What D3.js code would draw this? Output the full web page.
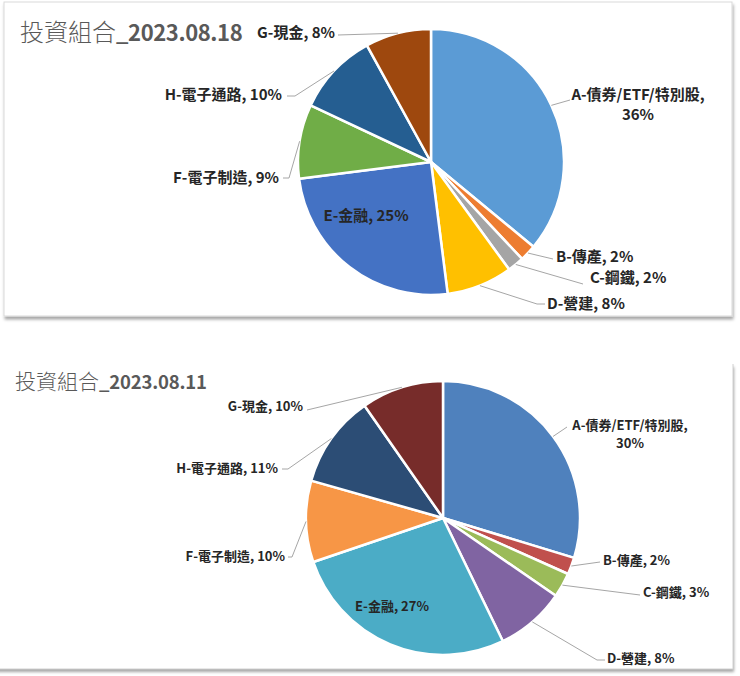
<!DOCTYPE html>
<html>
<head>
<meta charset="utf-8">
<style>
  html, body { margin: 0; padding: 0; background: #fff; }
  svg { display: block; font-family: "Noto Sans CJK TC", "Noto Sans", sans-serif; }
</style>
</head>
<body>
<script src="https://d3js.org/d3.v7.min.js"></script>
<script>
// 類別 (順時針, 從12點鐘開始)
var categories = ["A-債券/ETF/特別股", "B-傳產", "C-鋼鐵", "D-營建", "E-金融", "F-電子制造", "H-電子通路", "G-現金"];
// 各期持股比例 (%)
var values0818 = [36, 2, 2, 8, 25, 9, 10, 8];
var values0811 = [29.7, 2.0, 2.9, 8.2, 27.0, 9.6, 10.9, 9.7];
var titles = ["投資組合_2023.08.18", "投資組合_2023.08.11"];

// 配色 (Office 2013 / Office 2007 主題)
var colors2013 = ["#5B9BD5", "#ED7D31", "#A5A5A5", "#FFC000", "#4472C4", "#70AD47", "#255E91", "#9E480E"];
var colors2007 = ["#4F81BD", "#C0504D", "#9BBB59", "#8064A2", "#4BACC6", "#F79646", "#2C4D75", "#772C2A"];

// 標籤位置 (相對於圓心)
var layoutTop = [
  {tx: 207, ty: -62, anchor: "middle", wrap: true, leader: [[139, -62]]},
  {tx: 125, ty: 100, anchor: "start", leader: [[122, 97]]},
  {tx: 159, ty: 121, anchor: "start", leader: [[152, 122]]},
  {tx: 116, ty: 147, anchor: "start", leader: [[106, 142], [114, 142]]},
  {tx: -65, ty: 59, anchor: "middle", inside: true},
  {tx: -152, ty: 21, anchor: "end", leader: [[-142, 16], [-148, 16]]},
  {tx: -149, ty: -62, anchor: "end", leader: [[-136, -66], [-144, -66]]},
  {tx: -96, ty: -124, anchor: "end", leader: [[-93, -127]]}
];
var layoutBottom = [
  {tx: 187, ty: -88, anchor: "middle", wrap: true, leader: [[124, -91]]},
  {tx: 160, ty: 47, anchor: "start", leader: [[157, 44]]},
  {tx: 200, ty: 79, anchor: "start", leader: [[197, 77]]},
  {tx: 164, ty: 145, anchor: "start", leader: [[154, 142], [162, 142]]},
  {tx: -51, ty: 93, anchor: "middle", inside: true},
  {tx: -158, ty: 43, anchor: "end", leader: [[-151, 39], [-155, 39]]},
  {tx: -165, ty: -45, anchor: "end", leader: [[-155, -49], [-161, -49]]},
  {tx: -140, ty: -107, anchor: "end", leader: [[-136, -108]]}
];

var width = 740, height = 676;
var svg = d3.select("body").append("svg").attr("width", width).attr("height", height);

var defs = svg.append("defs");
var f = defs.append("filter").attr("id", "shadow").attr("x", "-5%").attr("y", "-5%").attr("width", "110%").attr("height", "115%");
f.append("feDropShadow").attr("dx", 1).attr("dy", 3).attr("stdDeviation", 1.5).attr("flood-color", "#000").attr("flood-opacity", 0.35);

// 外框
svg.append("rect").attr("x", 4).attr("y", 2).attr("width", 728).attr("height", 314)
  .attr("fill", "#fff").attr("stroke", "#D9D9D9").attr("filter", "url(#shadow)");
svg.append("rect").attr("x", -10).attr("y", 364).attr("width", 743).attr("height", 305)
  .attr("fill", "#fff").attr("filter", "url(#shadow)");
svg.append("path").attr("d", "M733,364V669H0").attr("fill", "none").attr("stroke", "#D0D0D0");

function drawPie(opt) {
  var g = svg.append("g").attr("transform", "translate(" + opt.cx + "," + opt.cy + ")");

  // 標題
  var t = svg.append("text").attr("x", opt.titleX).attr("y", opt.titleY)
    .attr("font-size", opt.titleSize).attr("fill", "#595959");
  var idx = opt.title.indexOf("_");
  t.append("tspan").attr("font-weight", 300).text(opt.title.slice(0, idx));
  t.append("tspan").attr("font-weight", 700).attr("font-size", opt.titleLatinSize)
    .attr("letter-spacing", opt.titleSpacing).text(opt.title.slice(idx));

  var pie = d3.pie().sort(null).value(function(d) { return d; });
  var arcs = pie(opt.values);
  var arc = d3.arc().innerRadius(0).outerRadius(opt.r);
  var edge = d3.arc().innerRadius(opt.r).outerRadius(opt.r);

  g.selectAll("path.slice").data(arcs).enter().append("path")
    .attr("class", "slice")
    .attr("d", arc)
    .attr("fill", function(d, i) { return opt.colors[i]; })
    .attr("stroke", "#fff").attr("stroke-width", 2.5).attr("stroke-linejoin", "round");

  // 引導線
  var line = d3.line();
  arcs.forEach(function(d, i) {
    var L = opt.layout[i];
    if (!L.leader) return;
    var pts = [edge.centroid(d)].concat(L.leader);
    g.append("path").attr("d", line(pts))
      .attr("fill", "none").attr("stroke", "#A6A6A6").attr("stroke-width", 1);
  });

  // 標籤
  arcs.forEach(function(d, i) {
    var L = opt.layout[i];
    var pct = Math.round(d.data) + "%";
    var txt = g.append("text").attr("x", L.tx).attr("y", L.ty)
      .attr("text-anchor", L.anchor)
      .attr("font-size", opt.labelSize).attr("font-weight", 700).attr("fill", "#262626");
    if (L.wrap) {
      txt.append("tspan").attr("x", L.tx).text(categories[i] + ",");
      txt.append("tspan").attr("x", L.tx).attr("dy", opt.lineGap).text(pct);
    } else {
      txt.text(categories[i] + ", " + pct);
    }
  });
}

drawPie({cx: 431, cy: 162, r: 133, values: values0818, colors: colors2013, layout: layoutTop,
  title: titles[0], titleX: 20, titleY: 41, titleSize: 24, titleLatinSize: 22, titleSpacing: -0.4,
  labelSize: 15, lineGap: 20});
drawPie({cx: 443, cy: 518, r: 137, values: values0811, colors: colors2007, layout: layoutBottom,
  title: titles[1], titleX: 15, titleY: 389, titleSize: 21, titleLatinSize: 18.5, titleSpacing: -0.2,
  labelSize: 13, lineGap: 18});
</script>
</body>
</html>
